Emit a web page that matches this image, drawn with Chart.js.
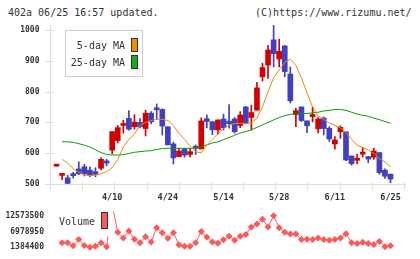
<!DOCTYPE html>
<html>
<head>
<meta charset="utf-8">
<script src="https://cdn.jsdelivr.net/npm/chart.js@4"></script>
<style>
  body { margin: 0; background: #fff; width: 420px; height: 259px; overflow: hidden; position: relative; font-family: "DejaVu Sans Mono", monospace; }
  .hd { position: absolute; top: 8px; font-size: 10px; line-height: 10px; color: #333; white-space: pre; }
  canvas { position: absolute; left: 0; }
  #price { top: 0; }
  #volume { top: 204px; }
</style>
</head>
<body>
<div class="hd" style="left:8px">402a 06/25 16:57 updated.</div>
<div class="hd" style="left:255px">(C)https://www.rizumu.net/</div>
<canvas id="price" width="420" height="204"></canvas>
<canvas id="volume" width="420" height="55"></canvas>
<script>
// daily candles, oldest first (index 0 = first day shown)
const opens  = [558,528,520,532,549,556,545,540,551,575,610,641,690,713,686,700,680,730,746,742,686,630,589,613,596,620,614,712,702,676,711,704,711,690,750,716,740,848,886,968,906,948,857,725,750,705,719,679,714,681,630,670,669,591,577,597,589,587,602,545,532];
const highs  = [558,534,528,538,572,564,556,553,585,580,670,690,707,738,725,712,740,735,760,744,686,636,616,616,615,627,715,724,703,708,727,758,716,735,752,756,830,892,950,1015,970,950,880,746,751,705,749,716,718,686,654,689,670,591,597,619,590,616,602,549,532];
const lows   = [558,514,498,519,530,526,524,523,546,559,598,634,665,675,678,682,656,695,710,659,627,565,589,587,588,596,614,682,660,662,675,681,665,683,695,675,740,834,843,880,880,848,763,686,703,667,702,666,659,638,613,648,576,561,565,587,569,580,532,518,504];
const closes = [558,530,502,527,533,533,528,532,580,568,670,683,693,678,701,686,730,702,741,688,627,585,607,594,605,616,705,703,676,708,683,696,670,724,697,732,812,878,935,923,931,865,770,738,706,689,722,711,680,646,643,684,578,566,580,602,581,607,537,525,516];
const ma5  = [null,580,568,550,538,530,527,528,533,540,553,580,620,645,662,690,700,706,710,710,706,690,665,645,622,605,601,627,645,663,680,692,696,697,697,698,714,750,800,845,870,895,905,885,845,795,750,720,710,698,690,683,667,645,626,618,610,600,582,572,556];
const ma25 = [null,637,637,635,631,626,620,611,602,596,594,594,595,599,603,605,607,608,612,615,616,616,616,616,616,618,621,627,633,637,644,651,658,666,670,676,684,692,700,708,716,722,726,728,728,729,731,733,737,739,742,742,739,733,727,723,720,714,709,703,697];
const volumes = [null,2980000,2980000,1860000,4180000,2030000,1384400,1750000,2980000,1580000,16500000,6700000,4660000,7170000,4180000,2980000,5100000,3260000,8290000,6500000,4550000,6500000,2220000,1750000,1750000,2980000,6980000,5020000,3260000,2780000,4000000,5300000,3900000,5300000,5940000,8570000,9690000,11370000,8570000,12573500,8290000,6700000,6060000,6060000,4100000,4180000,4100000,4660000,4100000,3900000,4100000,4660000,6220000,2980000,2700000,3150000,2700000,2310000,3430000,1580000,1860000];

const dateIdx  = [10, 20, 30, 40, 50, 60];
const dateText = ['4/10', '4/24', '5/14', '5/28', '6/11', '6/25'];
const priceTicks  = [500, 600, 700, 800, 900, 1000];
const volumeTicks = [1384400, 6978950, 12573500];

const UP = '#d40000', DOWN = '#4040c0', VOLC = '#ff5858';
const GRID = '#dcdcdc', TXT = '#333';
const FONT = 'DejaVu Sans Mono';
const XMIN = -0.99, XMAX = 62.6;

const idx = opens.map((_, i) => i);
const candleColor = idx.map(i => closes[i] >= opens[i] ? UP : DOWN);

// axis lines + little cross ticks, rizumu style
const axesPlugin = {
  id: 'axes',
  beforeDatasetsDraw(chart) {
    const { ctx, chartArea: a, scales: { y } } = chart;
    ctx.save();
    ctx.strokeStyle = GRID;
    ctx.lineWidth = 1;
    ctx.beginPath();
    const xl = Math.round(a.left) - 0.5;
    const yb = Math.round(a.bottom) + 0.5;
    ctx.moveTo(xl, a.top);
    ctx.lineTo(xl, a.bottom + 6);
    ctx.moveTo(a.left - 6, yb);
    ctx.lineTo(a.right + 1, yb);
    priceTicks.forEach(v => {
      const py = Math.round(y.getPixelForValue(v)) + 0.5;
      ctx.moveTo(a.left - 6, py);
      ctx.lineTo(a.left + 3, py);
    });
    for (let k = 0; k <= 11; k++) {
      const px = Math.round(a.left + k * (a.right - a.left) / 11) - 0.5;
      ctx.moveTo(px, a.bottom - 2);
      ctx.lineTo(px, a.bottom + 6);
    }
    ctx.stroke();
    ctx.restore();
  }
};

const maLegend = {
  id: 'maLegend',
  afterDatasetsDraw(chart) {
    const ctx = chart.ctx;
    ctx.save();
    ctx.fillStyle = '#fff';
    ctx.fillRect(65, 30, 78, 47);
    ctx.strokeStyle = '#cccccc';
    ctx.strokeRect(65.5, 30.5, 77, 46);
    ctx.font = '10px "' + FONT + '"';
    ctx.fillStyle = TXT;
    ctx.textAlign = 'right';
    ctx.textBaseline = 'middle';
    ctx.fillText('5-day MA', 125, 46);
    ctx.fillText('25-day MA', 125, 63);
    ctx.strokeStyle = '#333';
    ctx.fillStyle = '#f08c00';
    ctx.fillRect(131.5, 38.5, 6, 13);
    ctx.strokeRect(131.5, 38.5, 6, 13);
    ctx.fillStyle = '#10b010';
    ctx.fillRect(131.5, 55.5, 6, 13);
    ctx.strokeRect(131.5, 55.5, 6, 13);
    ctx.restore();
  }
};

const volLegend = {
  id: 'volLegend',
  afterDatasetsDraw(chart) {
    const ctx = chart.ctx;
    ctx.save();
    ctx.fillStyle = '#fff';
    ctx.fillRect(55, 0, 57, 32.5);
    ctx.font = '10px "' + FONT + '"';
    ctx.fillStyle = TXT;
    ctx.textAlign = 'right';
    ctx.textBaseline = 'middle';
    ctx.fillText('Volume', 95, 18.5);
    ctx.fillStyle = VOLC;
    ctx.strokeStyle = '#333';
    ctx.fillRect(101.5, 8.5, 6, 16);
    ctx.strokeRect(101.5, 8.5, 6, 16);
    ctx.restore();
  }
};

new Chart(document.getElementById('price'), {
  type: 'bar',
  data: {
    datasets: [
      {
        type: 'line', label: '5-day MA',
        data: idx.map(i => ({ x: i, y: ma5[i] })),
        borderColor: '#f08c00', borderWidth: 1, pointRadius: 0, order: 0
      },
      {
        type: 'line', label: '25-day MA',
        data: idx.map(i => ({ x: i, y: ma25[i] })),
        borderColor: '#00a000', borderWidth: 1, pointRadius: 0, order: 1
      },
      {
        label: 'body',
        data: idx.map(i => ({ x: i, y: [Math.min(opens[i], closes[i]), Math.max(opens[i], closes[i])] })),
        backgroundColor: candleColor, barThickness: 5, minBarLength: 2, grouped: false, order: 2
      },
      {
        label: 'wick',
        data: idx.map(i => ({ x: i, y: [lows[i], highs[i]] })),
        backgroundColor: candleColor, barThickness: 1, grouped: false, order: 3
      }
    ]
  },
  options: {
    responsive: false,
    animation: false,
    layout: { padding: { top: 25, right: 15, left: 0, bottom: 0 } },
    plugins: { legend: { display: false }, tooltip: { enabled: false } },
    scales: {
      x: {
        type: 'linear', min: XMIN, max: XMAX, offset: false,
        grid: { display: false, drawTicks: false, offset: false }, border: { display: false },
        afterBuildTicks: s => { s.ticks = dateIdx.map(v => ({ value: v })); },
        afterFit: s => { s.height = 20; },
        ticks: {
          callback: v => dateText[dateIdx.indexOf(v)],
          font: { family: FONT, size: 8.5, weight: 'bold' }, color: TXT,
          padding: 8.5, maxRotation: 0, autoSkip: false
        }
      },
      y: {
        min: 500, max: 1016.2,
        grid: { display: false, drawTicks: false }, border: { display: false },
        afterBuildTicks: s => { s.ticks = priceTicks.map(v => ({ value: v })); },
        afterFit: s => { s.width = 51; },
        ticks: { callback: v => String(v), font: { family: FONT, size: 8, weight: 'bold' }, color: TXT, padding: 11.5 }
      }
    }
  },
  plugins: [axesPlugin, maLegend]
});

new Chart(document.getElementById('volume'), {
  type: 'line',
  data: {
    datasets: [{
      label: 'Volume',
      data: idx.map(i => ({ x: i, y: volumes[i] })),
      borderColor: VOLC, backgroundColor: VOLC, borderWidth: 1,
      pointStyle: 'rectRot', pointRadius: 3.5, pointBorderWidth: 0,
      clip: { left: 8, right: 8, top: 4, bottom: 8 }
    }]
  },
  options: {
    responsive: false,
    animation: false,
    layout: { padding: { top: 5, right: 15, left: 0, bottom: 10 } },
    plugins: { legend: { display: false }, tooltip: { enabled: false } },
    scales: {
      x: { type: 'linear', min: XMIN, max: XMAX, display: false },
      y: {
        min: volumeTicks[0], max: volumeTicks[2],
        grid: { display: false, drawTicks: false }, border: { display: false },
        afterBuildTicks: s => { s.ticks = volumeTicks.map(v => ({ value: v })); },
        afterFit: s => { s.width = 51; },
        ticks: { callback: v => String(v), font: { family: FONT, size: 8, weight: 'bold' }, color: TXT, padding: 7 }
      }
    }
  },
  plugins: [volLegend]
});
</script>
</body>
</html>
